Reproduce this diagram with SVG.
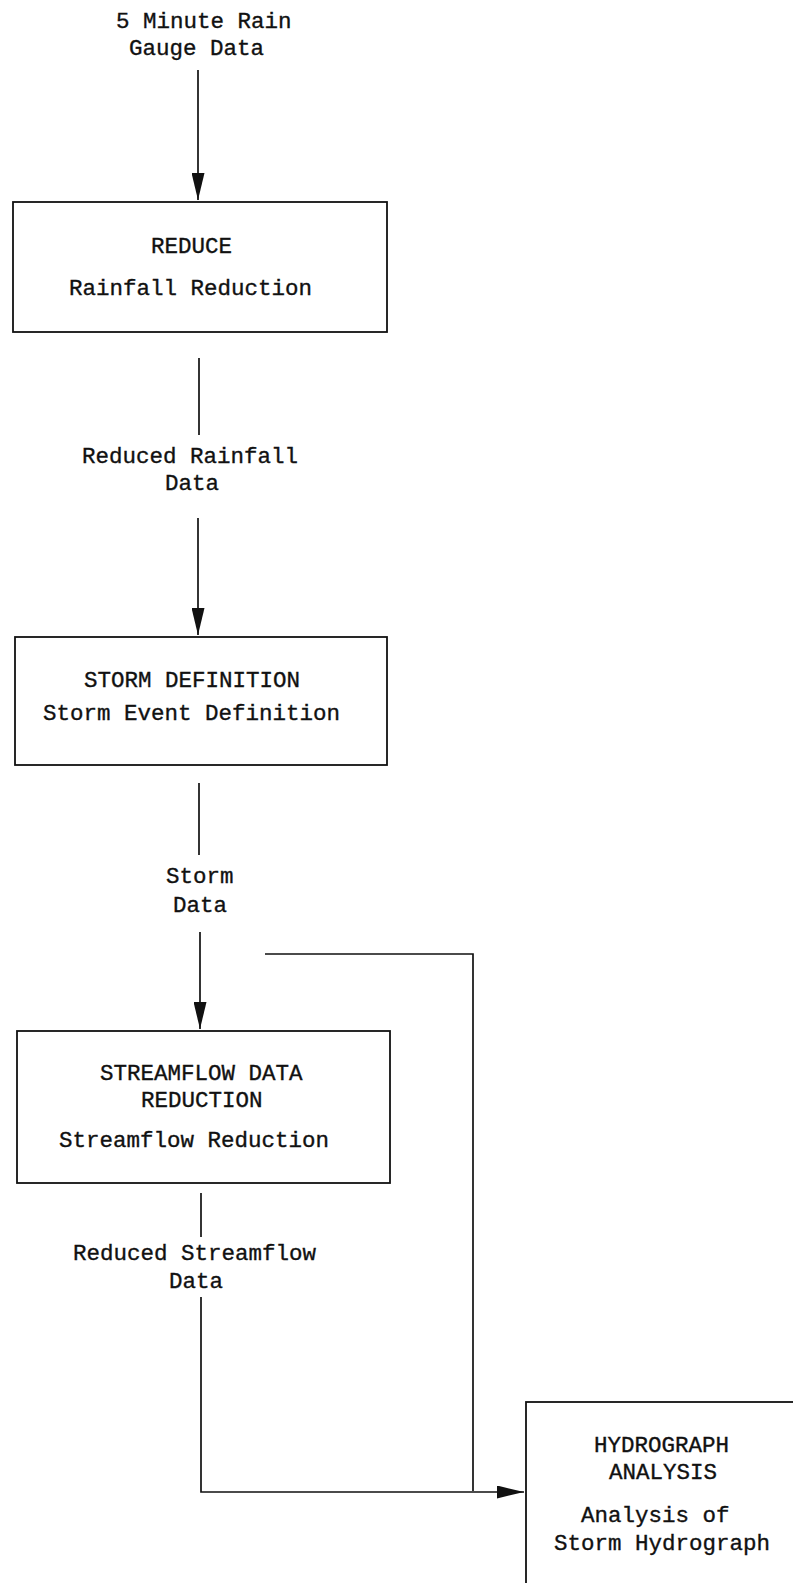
<svg xmlns="http://www.w3.org/2000/svg" width="793" height="1583" viewBox="0 0 793 1583">
<style>
text{font-family:"Liberation Mono","DejaVu Sans Mono",monospace;font-size:22.5px;fill:#111;stroke:#111;stroke-width:0.35}
.box{fill:none;stroke:#111;stroke-width:1.8}
.ln{fill:none;stroke:#111;stroke-width:1.7}
</style>
<defs>
<marker id="ah" markerUnits="userSpaceOnUse" markerWidth="28" markerHeight="13" refX="27" refY="6.5" orient="auto">
<path d="M0,0 L27,6.5 L0,13 z" fill="#111"/>
</marker>
</defs>
<rect width="793" height="1583" fill="#fff"/>
<g id="input">
<text x="116" y="28">5 Minute Rain</text>
<text x="129" y="55">Gauge Data</text>
</g>
<g id="reduce">
<rect class="box" x="13" y="202" width="374" height="130"/>
<text x="151" y="253">REDUCE</text>
<text x="69" y="295">Rainfall Reduction</text>
</g>
<g id="reduced-rainfall">
<text x="82" y="463">Reduced Rainfall</text>
<text x="165" y="490">Data</text>
</g>
<g id="storm-definition">
<rect class="box" x="15" y="637" width="372" height="128"/>
<text x="84" y="687">STORM DEFINITION</text>
<text x="43" y="720">Storm Event Definition</text>
</g>
<g id="storm-data">
<text x="166" y="883">Storm</text>
<text x="173" y="912">Data</text>
</g>
<g id="streamflow">
<rect class="box" x="17" y="1031" width="373" height="152"/>
<text x="100" y="1080">STREAMFLOW DATA</text>
<text x="141" y="1107">REDUCTION</text>
<text x="59" y="1147">Streamflow Reduction</text>
</g>
<g id="reduced-streamflow">
<text x="73" y="1260">Reduced Streamflow</text>
<text x="169" y="1288">Data</text>
</g>
<g id="hydrograph">
<rect class="box" x="526" y="1402" width="300" height="220"/>
<text x="594" y="1452">HYDROGRAPH</text>
<text x="609" y="1479">ANALYSIS</text>
<text x="581" y="1522">Analysis of</text>
<text x="554" y="1550">Storm Hydrograph</text>
</g>
<g id="connectors">
<line class="ln" x1="198" y1="70" x2="198" y2="200" marker-end="url(#ah)"/>
<line class="ln" x1="199" y1="358" x2="199" y2="435"/>
<line class="ln" x1="198" y1="518" x2="198" y2="635" marker-end="url(#ah)"/>
<line class="ln" x1="199" y1="783" x2="199" y2="855"/>
<line class="ln" x1="200" y1="932" x2="200" y2="1029" marker-end="url(#ah)"/>
<polyline class="ln" points="265,954 473,954 473,1491"/>
<line class="ln" x1="201" y1="1193" x2="201" y2="1237"/>
<polyline class="ln" points="201,1297 201,1492 524,1492" marker-end="url(#ah)"/>
</g>
</svg>
